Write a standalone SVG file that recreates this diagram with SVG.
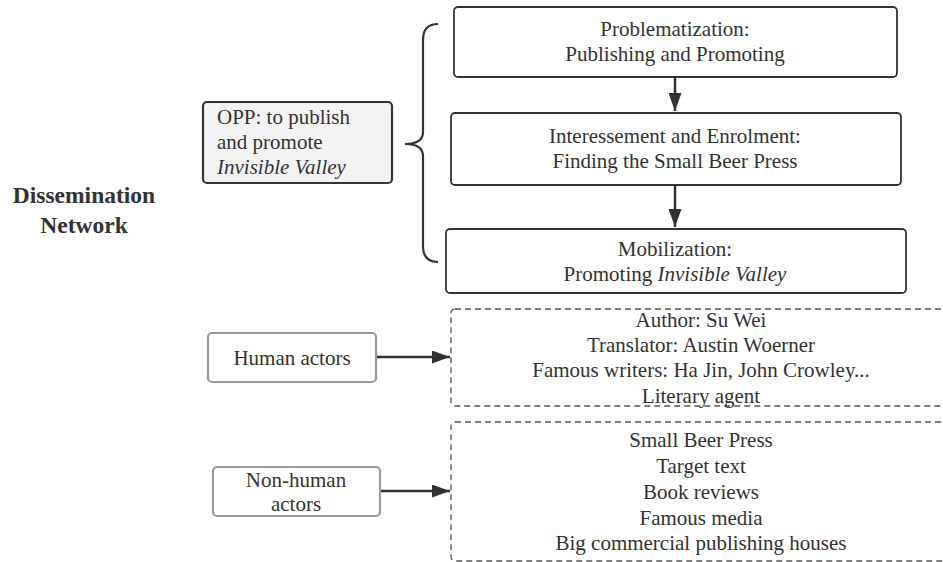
<svg xmlns="http://www.w3.org/2000/svg" width="943" height="562" viewBox="0 0 943 562">
<defs>
<marker id="ah" markerUnits="userSpaceOnUse" markerWidth="18" markerHeight="13" refX="18" refY="6.5" orient="auto">
<path d="M0,0 L18,6.5 L0,13 z" fill="#333"/>
</marker>
<style>
text{font-family:"Liberation Serif","Times New Roman",serif;font-size:21px;fill:#333}
.c{text-anchor:middle}
.box{fill:#fff;stroke:#333;stroke-width:1.8}
.gbox{fill:#fff;stroke:#999;stroke-width:2.2}
.dbox{fill:#fff;stroke:#555;stroke-width:1.3;stroke-dasharray:6 4}
.conn{fill:none;stroke:#333;stroke-width:2.5}
</style>
</defs>
<rect width="943" height="562" fill="#fff"/>
<g id="title">
<text class="c" x="84" y="203" style="font-weight:bold;font-size:23.5px">Dissemination</text>
<text class="c" x="84" y="233" style="font-weight:bold;font-size:23.5px">Network</text>
</g>
<g id="opp">
<rect x="203" y="102" width="189" height="81" rx="4" fill="#f3f3f3" stroke="#333" stroke-width="2.2"/>
<text x="217" y="124">OPP: to publish</text>
<text x="217" y="149">and promote</text>
<text x="217" y="174" font-style="italic">Invisible Valley</text>
</g>
<g id="brace">
<path d="M438,24 Q423,24 423,40 L423,132 Q423,144 405,144 Q423,144 423,156 L423,246 Q423,262 438,262" fill="none" stroke="#333" stroke-width="2.2"/>
</g>
<g id="problematization">
<rect class="box" x="454" y="7" width="443" height="70" rx="4"/>
<text class="c" x="675" y="36">Problematization:</text>
<text class="c" x="675" y="61">Publishing and Promoting</text>
</g>
<g id="interessement">
<rect class="box" x="451" y="113" width="450" height="72" rx="4"/>
<text class="c" x="675" y="143">Interessement and Enrolment:</text>
<text class="c" x="675" y="168">Finding the Small Beer Press</text>
</g>
<g id="mobilization">
<rect class="box" x="446" y="229" width="460" height="64" rx="4"/>
<text class="c" x="675" y="256">Mobilization:</text>
<text class="c" x="675" y="281">Promoting <tspan font-style="italic">Invisible Valley</tspan></text>
</g>
<g id="human">
<rect class="gbox" x="208" y="333" width="168" height="49" rx="4"/>
<text class="c" x="292" y="365">Human actors</text>
</g>
<g id="nonhuman">
<rect class="gbox" x="213" y="467" width="167" height="49" rx="4"/>
<text class="c" x="296" y="487">Non-human</text>
<text class="c" x="296" y="511">actors</text>
</g>
<g id="human-list">
<rect class="dbox" x="451" y="309" width="500" height="97" rx="4"/>
<text class="c" x="701" y="327">Author: Su Wei</text>
<text class="c" x="701" y="352">Translator: Austin Woerner</text>
<text class="c" x="701" y="377">Famous writers: Ha Jin, John Crowley...</text>
<text class="c" x="701" y="403">Literary agent</text>
</g>
<g id="nonhuman-list">
<rect class="dbox" x="451" y="422" width="500" height="139" rx="4"/>
<text class="c" x="701" y="447">Small Beer Press</text>
<text class="c" x="701" y="473">Target text</text>
<text class="c" x="701" y="499">Book reviews</text>
<text class="c" x="701" y="525">Famous media</text>
<text class="c" x="701" y="550">Big commercial publishing houses</text>
</g>
<g id="connectors">
<line class="conn" x1="675" y1="78" x2="675" y2="111" marker-end="url(#ah)"/>
<line class="conn" x1="675" y1="186" x2="675" y2="227" marker-end="url(#ah)"/>
<line class="conn" x1="377" y1="357" x2="450" y2="357" marker-end="url(#ah)"/>
<line class="conn" x1="381" y1="491" x2="450" y2="491" marker-end="url(#ah)"/>
</g>
</svg>
